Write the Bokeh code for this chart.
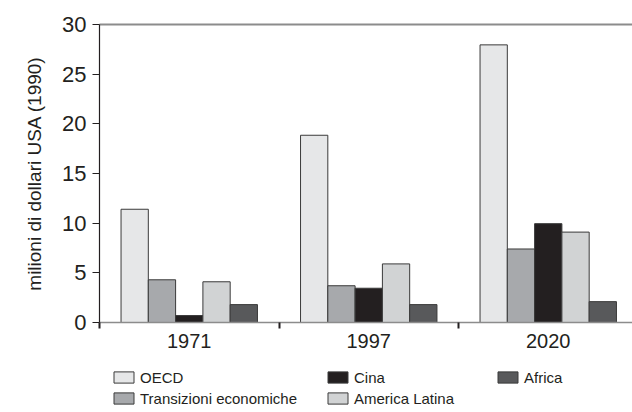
from bokeh.plotting import figure
from bokeh.layouts import column
from bokeh.models import (ColumnDataSource, Range1d, LinearAxis, FixedTicker,
                          Legend, LegendItem)
from bokeh.transform import dodge
from bokeh.embed import file_html
from bokeh.resources import INLINE

years = ["1971", "1997", "2020"]
series = ["OECD", "Transizioni economiche", "Cina", "America Latina", "Africa"]
oecd = [11.4, 18.85, 27.95]
transizioni = [4.3, 3.7, 7.4]
cina = [0.7, 3.45, 9.95]
america = [4.1, 5.9, 9.1]
africa = [1.8, 1.8, 2.1]
colors = ["#e6e7e8", "#a7a9ac", "#231f20", "#d1d3d4", "#58595b"]
yticks = [0, 5, 10, 15, 20, 25, 30]

FONT = "Liberation Sans"
TXT = "#231f20"

centers = [i + 0.5 for i in range(len(years))]
src = ColumnDataSource(dict(x=centers, oecd=oecd, transizioni=transizioni,
                            cina=cina, america=america, africa=africa))

p = figure(width=632, height=352, output_backend="svg", toolbar_location=None,
           x_range=Range1d(0, 533 / 179.5), y_range=Range1d(0, 30),
           x_axis_location=None, y_axis_location=None,
           min_border_left=99, min_border_top=24, min_border_right=0,
           min_border_bottom=30)
p.outline_line_color = None
p.grid.grid_line_color = None

bw = 0.152
cols = ["oecd", "transizioni", "cina", "america", "africa"]
for k, (c, col) in enumerate(zip(cols, colors)):
    p.vbar(x=dodge("x", (k - 2) * bw, range=p.x_range), top=c, width=bw,
           bottom=0, source=src, fill_color=col, line_color="#3a3a3a",
           line_width=1)

# y axis
ya = LinearAxis(ticker=FixedTicker(ticks=yticks))
ya.axis_label = "milioni di dollari USA (1990)"
ya.axis_label_text_font = FONT
ya.axis_label_text_font_size = "19px"
ya.axis_label_text_font_style = "normal"
ya.axis_label_text_color = TXT
ya.axis_label_standoff = 14
ya.major_label_text_font = FONT
ya.major_label_text_font_size = "22px"
ya.major_label_text_color = TXT
ya.major_label_standoff = 6
ya.major_tick_out = 7
ya.major_tick_in = 0
ya.minor_tick_out = 0
ya.axis_line_color = TXT
ya.axis_line_width = 1.2
ya.major_tick_line_color = TXT
ya.major_tick_line_width = 1.2
p.add_layout(ya, "left")

# x axis
xa = LinearAxis(ticker=FixedTicker(ticks=centers, minor_ticks=[0, 1, 2, 3]))
xa.major_label_overrides = {c: y for c, y in zip(centers, years)}
xa.major_label_text_font = FONT
xa.major_label_text_font_size = "20px"
xa.major_label_text_color = TXT
xa.major_label_standoff = 5
xa.major_tick_out = 0
xa.major_tick_in = 0
xa.minor_tick_out = 6
xa.minor_tick_in = 0
xa.minor_tick_line_color = TXT
xa.minor_tick_line_width = 2
xa.axis_line_color = "#8c8c8c"
xa.axis_line_width = 1.5
p.add_layout(xa, "below")

# top line
ta = LinearAxis(ticker=FixedTicker(ticks=[]))
ta.major_label_text_font_size = "0px"
ta.major_tick_out = 0
ta.minor_tick_out = 0
ta.axis_line_color = "#8c8c8c"
ta.axis_line_width = 2
p.add_layout(ta, "above")

# legend figure
lg = figure(width=632, height=60, output_backend="svg", toolbar_location=None,
            x_range=Range1d(0, 1), y_range=Range1d(0, 1),
            x_axis_location=None, y_axis_location=None,
            min_border=0)
lg.outline_line_color = None
lg.grid.grid_line_color = None
swatches = []
for col in colors:
    swatches.append(lg.vbar(x=[float("nan")], top=[float("nan")], bottom=0,
                            width=0.1, fill_color=col, line_color="#3a3a3a",
                            line_width=1))

groups = [([0, 1], 12), ([2, 3], 226), ([4], 396)]
for idx, xpos in groups:
    items = [LegendItem(label=series[i], renderers=[swatches[i]]) for i in idx]
    ypos = 5 if len(idx) == 2 else 26
    leg = Legend(items=items, location=(xpos, ypos), orientation="vertical",
                 glyph_width=25, glyph_height=14, label_height=18, spacing=3,
                 label_standoff=4, padding=0, margin=0,
                 label_text_font=FONT, label_text_font_size="15px",
                 label_text_color=TXT, border_line_color=None,
                 background_fill_alpha=0)
    lg.add_layout(leg, "center")

open("out.html", "w").write(file_html(column(p, lg, spacing=0), INLINE))
